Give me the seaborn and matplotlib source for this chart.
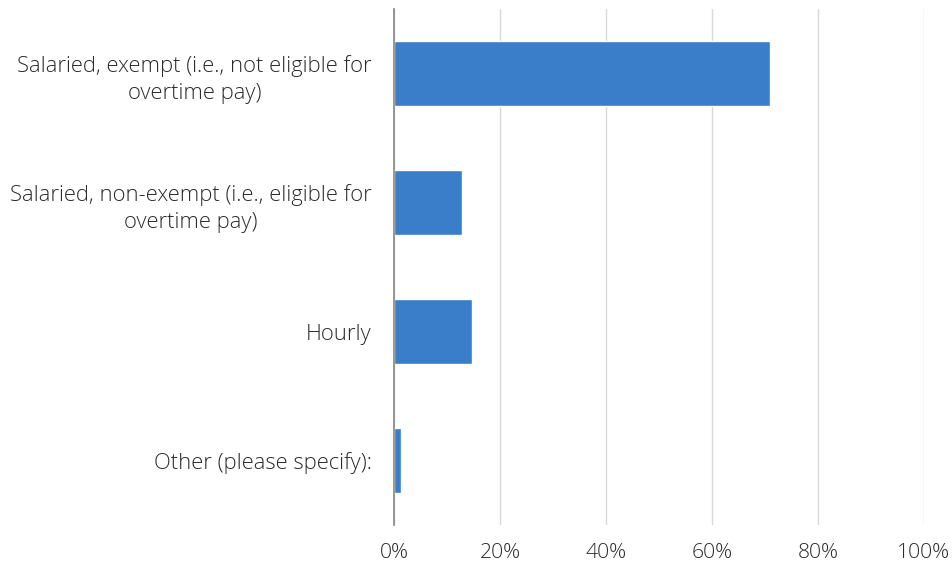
import matplotlib
matplotlib.use("Agg")
import matplotlib.pyplot as plt
import seaborn as sns
import pandas as pd
from matplotlib.ticker import FuncFormatter

categories = [
    "Salaried, exempt (i.e., not eligible for\novertime pay)",
    "Salaried, non-exempt (i.e., eligible for\novertime pay)",
    "Hourly",
    "Other (please specify):",
]
shares = [71.0, 12.9, 14.8, 1.4]
x_ticks = [0, 20, 40, 60, 80, 100]

df = pd.DataFrame({"category": categories, "share": shares})

sns.set_theme(style="white")
plt.rcParams["font.family"] = ["Open Sans", "DejaVu Sans"]

fig = plt.figure(figsize=(9.52, 5.73), dpi=100)
ax = fig.add_axes([0.4139, 0.0838, 0.5567, 0.9002])

sns.barplot(data=df, x="share", y="category", orient="h", color="#3A7DC9",
            saturation=1, width=0.5, ax=ax, zorder=3)

ax.set_xlim(0, 100)
ax.set_xticks(x_ticks)
ax.xaxis.set_major_formatter(FuncFormatter(lambda v, p: f"{v:.0f}%"))
ax.grid(axis="x", color="#D9D9D9", linewidth=1.0, zorder=0)
ax.grid(axis="y", visible=False)
for side in ["top", "right", "bottom"]:
    ax.spines[side].set_visible(False)
ax.spines["left"].set_color("#868686")
ax.spines["left"].set_linewidth(1.2)
ax.spines["left"].set_zorder(4)
ax.set_xlabel("")
ax.set_ylabel("")
ax.tick_params(axis="y", length=0, labelsize=15.8, labelcolor="#2B2B2B", pad=16)
ax.tick_params(axis="x", length=0, labelsize=15.2, labelcolor="#2B2B2B", pad=13)
for t in ax.get_yticklabels() + ax.get_xticklabels():
    t.set_fontweight("light")
for t in ax.get_yticklabels():
    t.set_multialignment("center")
    t.set_linespacing(1.37)

fig.savefig("out.png", dpi=100, facecolor="white")
